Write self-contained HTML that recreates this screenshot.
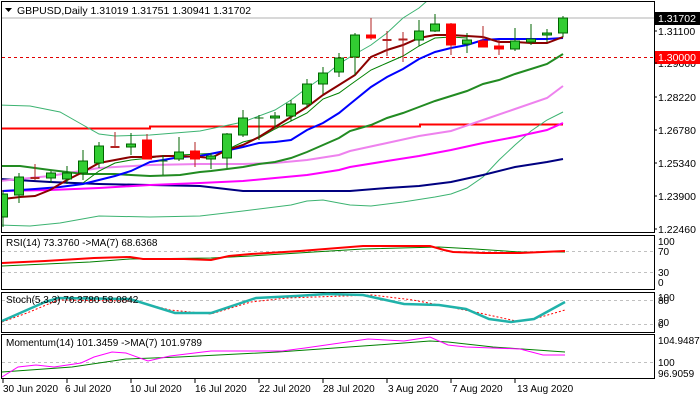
<!DOCTYPE html>
<html><head><meta charset="utf-8"><style>
html,body{margin:0;padding:0;background:#fff;}
svg{display:block;font-family:"Liberation Sans",sans-serif;}
</style></head><body>
<svg width="700" height="400" viewBox="0 0 700 400" xmlns="http://www.w3.org/2000/svg">
<defs><clipPath id="cm"><rect x="2" y="2" width="652" height="230"/></clipPath></defs>
<rect x="0" y="0" width="700" height="400" fill="#fff"/>
<g clip-path="url(#cm)" fill="none">
<line x1="2" y1="18" x2="654" y2="18" stroke="#b0b0b0" stroke-width="1"/>
<line x1="2" y1="57.5" x2="654" y2="57.5" stroke="#e00000" stroke-dasharray="3,3"/>
<polyline points="2,128.5 150,128.5 150,126.5 420,126.5 420,124.5 563,124.5" stroke="#ff0000" stroke-width="2"/>
<polyline points="0,105 30,106 60,112 83,125 99,134 115,136 150,135 200,131 243,122 275,110 291,100 307,88 323,77 339,64 350,57 371,45 387,33 403,18 419,8 427,1" stroke="#3cb371" stroke-width="1"/>
<polyline points="0,225 30,226 60,223 99,216 150,217 200,216 243,211 275,207 291,205 307,201 323,200 339,203 350,205 371,206 403,202 435,197 451,194 467,188 483,177 499,160 515,145 531,131 547,120 563,112" stroke="#3cb371" stroke-width="1"/>
<polyline points="0,179 50,182 99,184 150,185 200,186 243,191 275,191 307,191 339,191 350,191 387,188 419,186 451,182 483,175 515,167 547,162 563,159" stroke="#000080" stroke-width="2"/>
<polyline points="0,191 50,190 99,188 150,185 200,183 243,181 275,178 307,175 339,170 350,167 387,161 419,156 451,150 483,143 515,137 547,130 563,123" stroke="#ff00ff" stroke-width="2"/>
<polyline points="0,181 50,176 99,168 150,165 200,164 243,164 275,163 307,160 339,155 350,151 387,143 419,136 451,131 483,120 515,109 547,98 563,86" stroke="#ee82ee" stroke-width="2"/>
<polyline points="0,166 20,166 35,168 50,170 67,172 83,174 115,174 131,175 150,176 180,175 200,172 211,171 243,167 259,164 275,162 291,158 307,152 323,145 339,138 350,131 371,125 387,118 403,113 419,107 435,101 451,96 467,91 483,84 499,80 515,74 531,69 547,64 563,54" stroke="#228b22" stroke-width="2"/>
<polyline points="83,183 99,171 115,163 131,160 150,158 163,156 180,155 200,154 220,153 243,142 259,138 275,129 291,121 307,113 323,99 339,93 350,85 371,70 387,63 403,56 419,46 435,38 451,37 467,38" stroke="#008000" stroke-width="1"/>
<polyline points="3,191 20,190 35,189 60,187 83,184 99,180 115,176 131,171 150,162 163,160 180,157 200,156 220,152 243,147 259,143 275,142 291,140 307,130 323,123 339,113 350,104 371,87 387,77 403,69 419,59 435,52 451,48 467,45 483,40 499,39 515,39 531,39 547,39 563,38" stroke="#0000ff" stroke-width="2"/>
<polyline points="3,199 20,197 35,196 50,190 67,180 83,172 99,163 115,160 131,157 150,157 163,156 180,156 200,157 211,158 227,150 243,145 259,137 275,127 291,117 307,107 323,95 339,85 355,75 371,57 387,50 403,45 419,38 435,35 451,35 467,36 483,37 499,42 515,42 531,43 547,43 563,37" stroke="#8b0000" stroke-width="2"/>
<g stroke-width="1">
<g stroke="#006400">
<line x1="3" y1="190" x2="3" y2="227"/><rect x="-1.5" y="194" width="9" height="23" fill="#32cd32"/>
<line x1="19" y1="173" x2="19" y2="203"/><rect x="14.5" y="177" width="9" height="18" fill="#32cd32"/>
<line x1="51" y1="171" x2="51" y2="183"/><rect x="46.5" y="173" width="9" height="5" fill="#32cd32"/>
<line x1="67" y1="166" x2="67" y2="184"/><rect x="62.5" y="173" width="9" height="6" fill="#32cd32"/>
<line x1="83" y1="150" x2="83" y2="180"/><rect x="78.5" y="161" width="9" height="12" fill="#32cd32"/>
<line x1="99" y1="142" x2="99" y2="168"/><rect x="94.5" y="146" width="9" height="17" fill="#32cd32"/>
<line x1="131" y1="133" x2="131" y2="155"/><rect x="126.5" y="144" width="9" height="3" fill="#32cd32"/>
<line x1="163" y1="155" x2="163" y2="175"/><line x1="158.5" y1="161" x2="167.5" y2="161"/>
<line x1="179" y1="137" x2="179" y2="161"/><rect x="174.5" y="152" width="9" height="7" fill="#32cd32"/>
<line x1="211" y1="153" x2="211" y2="169"/><rect x="206.5" y="156" width="9" height="3" fill="#32cd32"/>
<line x1="227" y1="133" x2="227" y2="168"/><rect x="222.5" y="134" width="9" height="24" fill="#32cd32"/>
<line x1="243" y1="110" x2="243" y2="137"/><rect x="238.5" y="118" width="9" height="17" fill="#32cd32"/>
<line x1="259" y1="115" x2="259" y2="140"/><line x1="254.5" y1="118" x2="263.5" y2="118"/>
<line x1="275" y1="112" x2="275" y2="128"/><rect x="270.5" y="116" width="9" height="2" fill="#32cd32"/>
<line x1="291" y1="100" x2="291" y2="121"/><rect x="286.5" y="104" width="9" height="12" fill="#32cd32"/>
<line x1="307" y1="79" x2="307" y2="108"/><rect x="302.5" y="84" width="9" height="20" fill="#32cd32"/>
<line x1="323" y1="67" x2="323" y2="94"/><rect x="318.5" y="73" width="9" height="11" fill="#32cd32"/>
<line x1="339" y1="53" x2="339" y2="77"/><rect x="334.5" y="58" width="9" height="14" fill="#32cd32"/>
<line x1="355" y1="33" x2="355" y2="75"/><rect x="350.5" y="35" width="9" height="22" fill="#32cd32"/>
<line x1="419" y1="20" x2="419" y2="46"/><rect x="414.5" y="31" width="9" height="9" fill="#32cd32"/>
<line x1="435" y1="14" x2="435" y2="32"/><rect x="430.5" y="24" width="9" height="7" fill="#32cd32"/>
<line x1="467" y1="33" x2="467" y2="53"/><rect x="462.5" y="40" width="9" height="4" fill="#32cd32"/>
<line x1="515" y1="28" x2="515" y2="51"/><rect x="510.5" y="41" width="9" height="8" fill="#32cd32"/>
<line x1="531" y1="24" x2="531" y2="45"/><rect x="526.5" y="39" width="9" height="3" fill="#32cd32"/>
<line x1="547" y1="29" x2="547" y2="42"/><rect x="542.5" y="33" width="9" height="2" fill="#32cd32"/>
<line x1="563" y1="16" x2="563" y2="37"/><rect x="558.5" y="18" width="9" height="15" fill="#32cd32"/>
</g>
<g stroke="#b22222">
<line x1="35" y1="164" x2="35" y2="180"/><line x1="30.5" y1="178" x2="39.5" y2="178" stroke-width="2"/>
<line x1="115" y1="132" x2="115" y2="148"/><line x1="110.5" y1="147" x2="119.5" y2="147" stroke-width="2"/>
<line x1="147" y1="134" x2="147" y2="159"/><rect x="142.5" y="140" width="9" height="19" fill="#ff0000" stroke="#ff0000"/>
<line x1="195" y1="142" x2="195" y2="167"/><rect x="190.5" y="151" width="9" height="8" fill="#ff0000" stroke="#ff0000"/>
<line x1="371" y1="18" x2="371" y2="40"/><rect x="366.5" y="35" width="9" height="3" fill="#ff0000" stroke="#ff0000"/>
<line x1="387" y1="31" x2="387" y2="56"/><line x1="382.5" y1="40" x2="391.5" y2="40" stroke-width="2"/>
<line x1="403" y1="32" x2="403" y2="62"/><line x1="398.5" y1="39.5" x2="407.5" y2="39.5" stroke-width="2"/>
<line x1="451" y1="23" x2="451" y2="55"/><rect x="446.5" y="24" width="9" height="21" fill="#ff0000" stroke="#ff0000"/>
<line x1="483" y1="26" x2="483" y2="47"/><rect x="478.5" y="41" width="9" height="6" fill="#ff0000" stroke="#ff0000"/>
<line x1="499" y1="40" x2="499" y2="55"/><rect x="494.5" y="46" width="9" height="3" fill="#ff0000" stroke="#ff0000"/>
</g>
</g>
</g>
<!-- panel borders -->
<g fill="none" stroke="#000" stroke-width="1">
<rect x="1.5" y="1.5" width="653" height="231"/>
<rect x="1.5" y="235.5" width="653" height="54"/>
<rect x="1.5" y="292.5" width="653" height="40"/>
<rect x="1.5" y="334.5" width="653" height="44"/>
</g>
<!-- title -->
<polygon points="5,8 12,8 8.5,12" fill="#000"/>
<text x="17" y="14" font-size="10.5" fill="#000">GBPUSD,Daily  1.31019 1.31751 1.30941 1.31702</text>
<!-- price axis -->
<g font-size="10.5" fill="#000">
<rect x="655" y="12" width="45" height="13" fill="#000"/>
<text x="658" y="22" fill="#fff">1.31702</text>
<text x="658" y="35">1.31100</text>
<text x="658" y="67">1.29660</text>
<rect x="655" y="51" width="45" height="13" fill="#ff0000"/>
<text x="658" y="61" fill="#fff">1.30000</text>
<text x="658" y="101">1.28220</text>
<text x="658" y="134">1.26780</text>
<text x="658" y="167">1.25340</text>
<text x="658" y="200">1.23900</text>
<text x="658" y="233">1.22460</text>
</g>
<g stroke="#000"><line x1="654" y1="31" x2="657" y2="31"/><line x1="654" y1="63" x2="657" y2="63"/><line x1="654" y1="97" x2="657" y2="97"/><line x1="654" y1="130" x2="657" y2="130"/><line x1="654" y1="163" x2="657" y2="163"/><line x1="654" y1="196" x2="657" y2="196"/><line x1="654" y1="229" x2="657" y2="229"/></g>
<!-- RSI -->
<g fill="none">
<line x1="2" y1="251.5" x2="654" y2="251.5" stroke="#c0c0c0" stroke-dasharray="3,3"/>
<line x1="2" y1="272.5" x2="654" y2="272.5" stroke="#c0c0c0" stroke-dasharray="3,3"/>
<polyline points="2,266 90,262 130,259 211,258 251,256 314,252 363,249 439,247 475,249 520,252 565,252" stroke="#008000" stroke-width="1"/>
<polyline points="2,263 45,261 94,258 130,257 143,259 184,259 211,260 229,256 251,254 300,251 363,246 430,246 444,250 453,252 484,253 520,253 565,251" stroke="#ff0000" stroke-width="2"/>
</g>
<text x="6" y="246" font-size="10" fill="#000">RSI(14) 73.3760  -&gt;MA(7) 68.6368</text>
<g font-size="10" fill="#000"><text x="658" y="245">100</text><text x="658" y="255">70</text><text x="658" y="276">30</text><text x="658" y="286">0</text></g>
<!-- Stoch -->
<g fill="none">
<line x1="2" y1="300.5" x2="654" y2="300.5" stroke="#c0c0c0" stroke-dasharray="3,3"/>
<line x1="2" y1="324.5" x2="654" y2="324.5" stroke="#c0c0c0" stroke-dasharray="3,3"/>
<polyline points="2,322 27,313 58,300 135,301 170,310 211,314 251,302 287,298 372,295 413,300 475,312 516,321 534,319 565,310" stroke="#ff0000" stroke-width="1" stroke-dasharray="2,2"/>
<polyline points="2,321 45,302 58,298 130,299 175,313 211,313 256,298 296,296 327,294 363,295 404,304 439,305 466,309 489,319 511,322 534,319 565,302" stroke="#20b2aa" stroke-width="2.5"/>
</g>
<text x="6" y="303" font-size="10" fill="#000">Stoch(5,3,3) 76.3780 58.0842</text>
<g font-size="10" fill="#000"><text x="658" y="301">100</text><text x="658" y="304">80</text><text x="658" y="326">20</text><text x="658" y="328">0</text></g>
<!-- Momentum -->
<g fill="none">
<line x1="2" y1="362.5" x2="654" y2="362.5" stroke="#c0c0c0" stroke-dasharray="3,3"/>
<polyline points="2,372 72,367 126,359 179,357 278,352 377,345 430,341 448,342 493,347 565,352" stroke="#008000" stroke-width="1"/>
<polyline points="2,377 18,367 36,365 54,367 81,363 94,357 112,352 126,353 148,361 170,356 211,351 282,351 305,348 368,339 404,341 430,337 448,345 466,347 520,349 543,355 565,355" stroke="#ff00ff" stroke-width="1"/>
</g>
<text x="6" y="346" font-size="10" fill="#000">Momentum(14) 101.3459  -&gt;MA(7) 101.9789</text>
<g font-size="10" fill="#000"><text x="658" y="344">104.9487</text><text x="658" y="366">100</text><text x="658" y="377">96.9059</text></g>
<!-- dates -->
<g stroke="#000"><line x1="3" y1="379" x2="3" y2="383"/><line x1="67" y1="379" x2="67" y2="383"/><line x1="131" y1="379" x2="131" y2="383"/><line x1="195" y1="379" x2="195" y2="383"/><line x1="259" y1="379" x2="259" y2="383"/><line x1="323" y1="379" x2="323" y2="383"/><line x1="387" y1="379" x2="387" y2="383"/><line x1="451" y1="379" x2="451" y2="383"/><line x1="515" y1="379" x2="515" y2="383"/></g>
<g font-size="10" fill="#000">
<text x="3" y="392">30 Jun 2020</text>
<text x="65" y="392">6 Jul 2020</text>
<text x="130" y="392">10 Jul 2020</text>
<text x="195" y="392">16 Jul 2020</text>
<text x="259" y="392">22 Jul 2020</text>
<text x="323" y="392">28 Jul 2020</text>
<text x="388" y="392">3 Aug 2020</text>
<text x="452" y="392">7 Aug 2020</text>
<text x="517" y="392">13 Aug 2020</text>
</g>
</svg>
</body></html>
